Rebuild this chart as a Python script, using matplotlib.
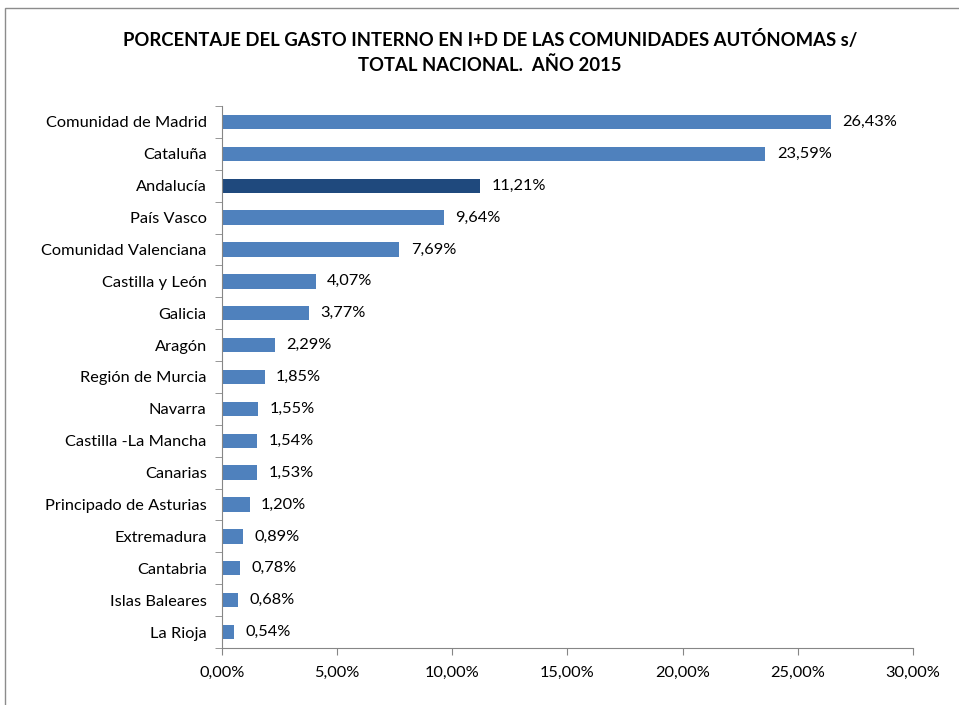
import matplotlib.pyplot as plt
from matplotlib.patches import Rectangle
from matplotlib.ticker import FuncFormatter

plt.rcParams['font.family'] = ['Lato', 'DejaVu Sans']

# Data (percentage of national R&D spend, 2015)
regions = [
    "Comunidad de Madrid", "Cataluña", "Andalucía", "País Vasco",
    "Comunidad Valenciana", "Castilla y León", "Galicia", "Aragón",
    "Región de Murcia", "Navarra", "Castilla -La Mancha", "Canarias",
    "Principado de Asturias", "Extremadura", "Cantabria", "Islas Baleares",
    "La Rioja",
]
values = [26.43, 23.59, 11.21, 9.64, 7.69, 4.07, 3.77, 2.29,
          1.85, 1.55, 1.54, 1.53, 1.20, 0.89, 0.78, 0.68, 0.54]
highlight = "Andalucía"
x_ticks = [0, 5, 10, 15, 20, 25, 30]


def es_pct(v, _pos=None):
    return f"{v:.2f}%".replace(".", ",")


fig = plt.figure(figsize=(9.59, 7.05), dpi=100)
ax = fig.add_axes([0.2315, 0.0809, 0.7205, 0.7687])

# outer chart frame, cut off at the right and bottom like the source
fig.patches.append(Rectangle((5 / 959, -0.1), 1.2, 1 - 8 / 705 + 0.1,
                             transform=fig.transFigure, fill=False,
                             edgecolor="#8c8c8c", linewidth=1))

pos = list(range(len(regions)))
colors = ["#1F497D" if r == highlight else "#4F81BD" for r in regions]
ax.barh(pos, values, height=0.45, color=colors, zorder=2)

for y, v in zip(pos, values):
    ax.text(v + 0.5, y, es_pct(v), va="center", ha="left", fontsize=11.8)

ax.set_ylim(len(regions) - 0.5, -0.5)
ax.set_xlim(0, 30)
ax.set_xticks(x_ticks)
ax.xaxis.set_major_formatter(FuncFormatter(es_pct))

ax.set_yticks(pos)
ax.set_yticklabels(regions, fontsize=11.8)
ax.set_yticks([p - 0.5 for p in pos] + [len(regions) - 0.5], minor=True)
ax.tick_params(axis="y", which="major", length=0, pad=11)
ax.tick_params(axis="y", which="minor", length=5, color="#868686")
ax.tick_params(axis="x", length=5, color="#868686", labelsize=11.8, pad=8)

for side in ("top", "right"):
    ax.spines[side].set_visible(False)
for side in ("left", "bottom"):
    ax.spines[side].set_color("#868686")

fig.text(0.511, 0.944,
         "PORCENTAJE DEL GASTO INTERNO EN I+D DE LAS COMUNIDADES AUTÓNOMAS s/",
         ha="center", va="center", fontsize=13.3, fontweight="bold")
fig.text(0.511, 0.908, "TOTAL NACIONAL.  AÑO 2015",
         ha="center", va="center", fontsize=13.3, fontweight="bold")

fig.savefig("out.png", dpi=100)
